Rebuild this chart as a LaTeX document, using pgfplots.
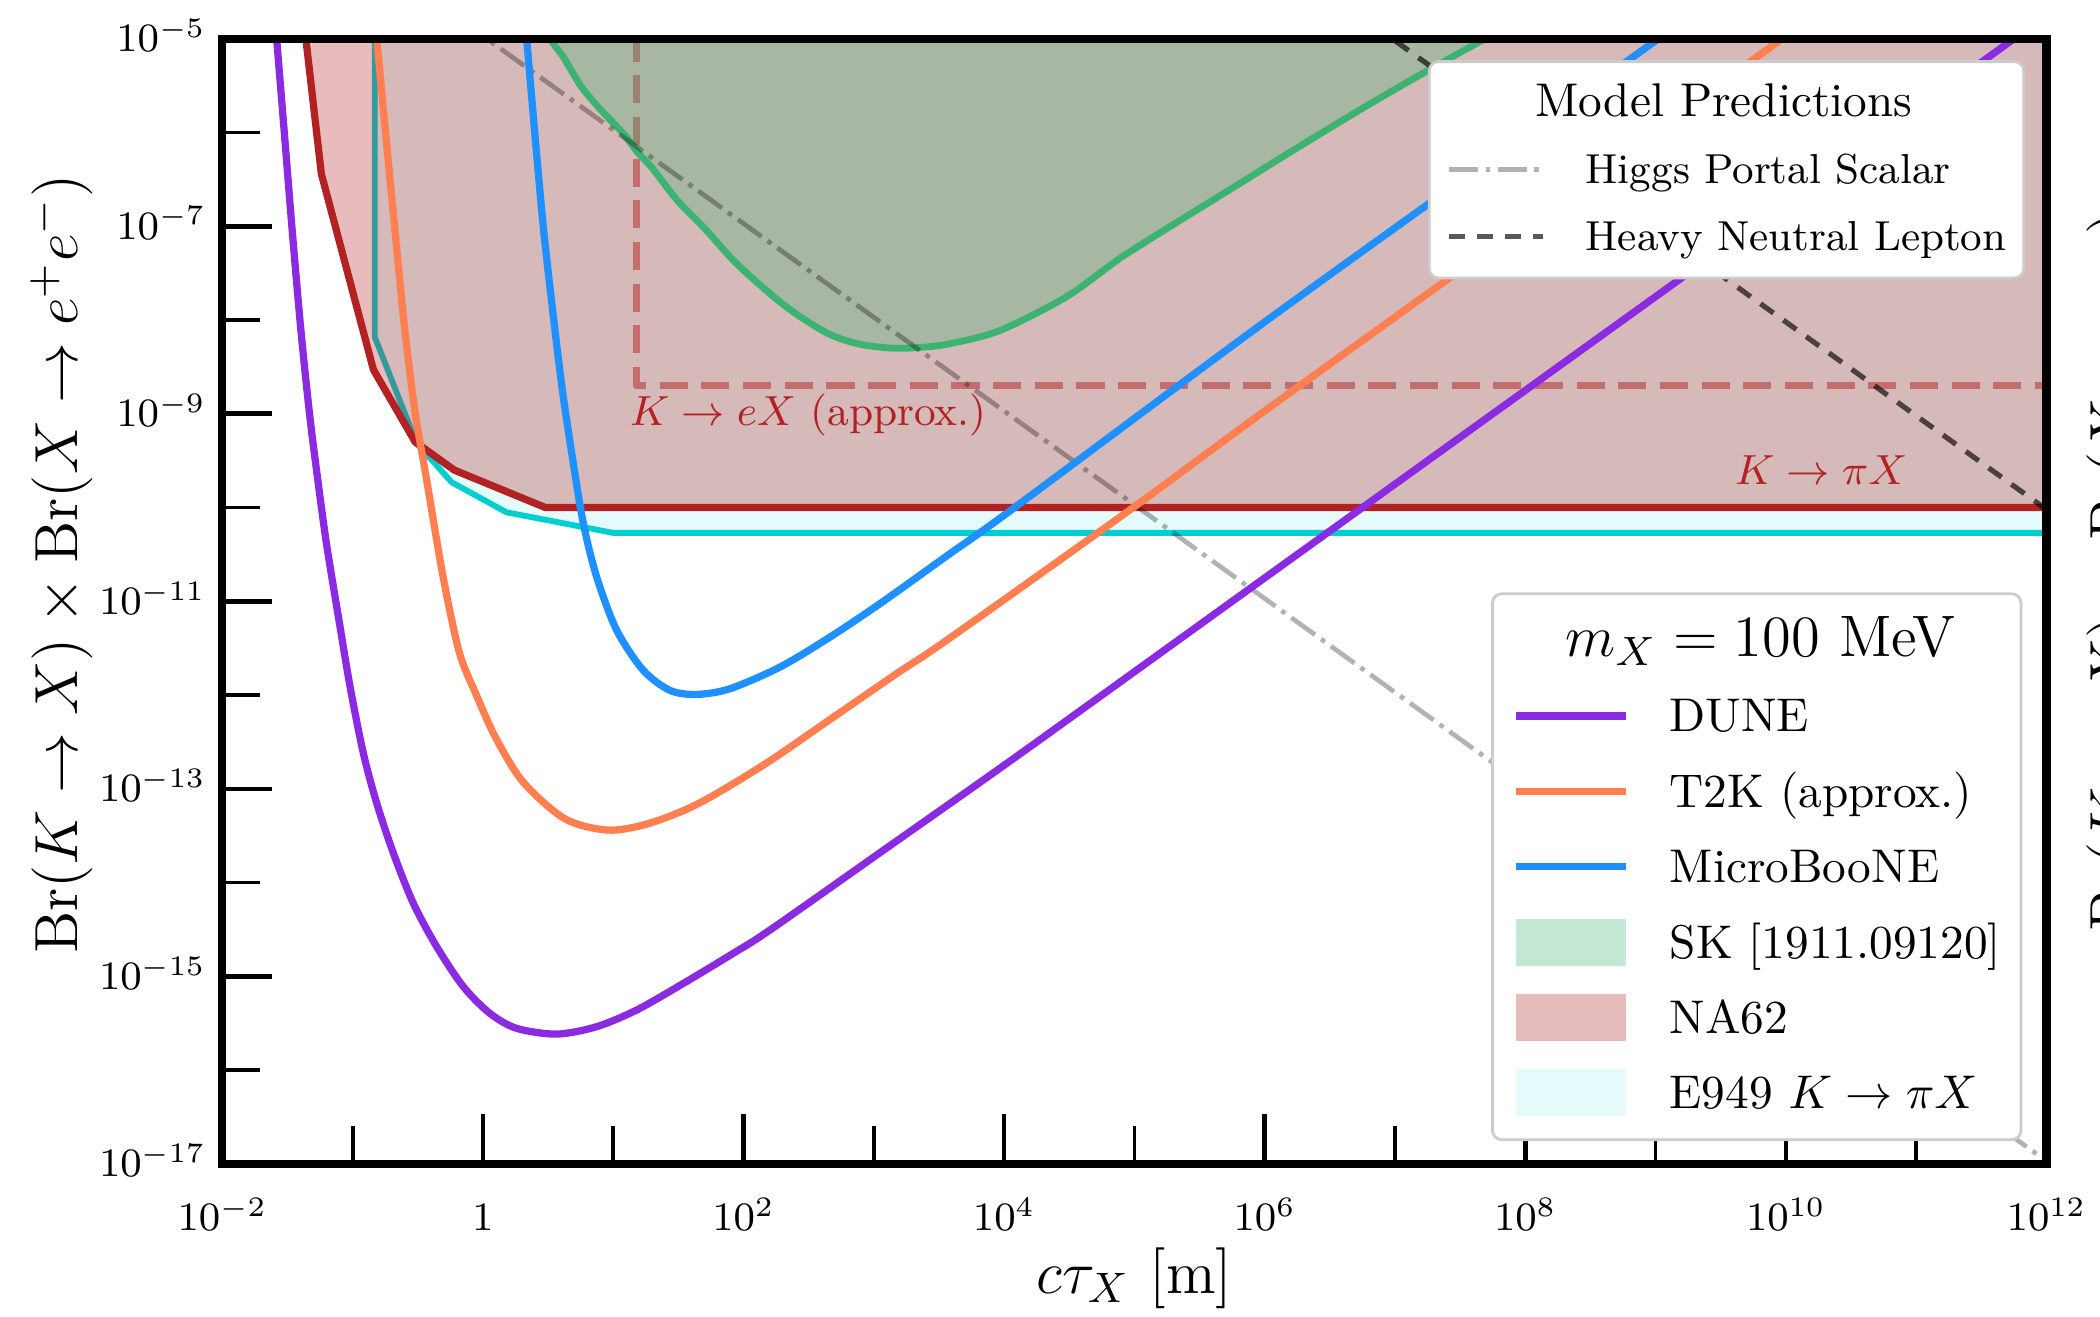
\RequirePackage{fix-cm}
\documentclass[border=0pt]{standalone}
\usepackage{fontspec}
\usepackage{pgfplots}
\pgfplotsset{compat=1.18}

\definecolor{dune}{HTML}{8A2BE2}
\definecolor{ttk}{HTML}{FF7F50}
\definecolor{uboone}{HTML}{1E90FF}
\definecolor{skgreen}{HTML}{3CB371}
\definecolor{nasixtytwo}{HTML}{B22222}
\definecolor{enine}{HTML}{00CED1}
\definecolor{legframe}{HTML}{CCCCCC}

\pgfplotsset{
  leg line A/.style={legend image code/.code={\draw[##1] (0pt,0pt) -- (20pt,0pt);}},
  leg line B/.style={legend image code/.code={\draw[##1] (0pt,0pt) -- (23.4pt,0pt);}},
  leg patch/.style={legend image code/.code={\fill[##1, sharp corners] (0pt,-5pt) rectangle (23.4pt,5pt);}},
}
\newcommand{\mxtitle}{\hspace*{-32pt}\makebox[102.7pt][c]{\fontsize{12.5}{14}\selectfont $m_X = 100$ MeV}}
\newcommand{\mptitle}{\hspace*{-28.6pt}\makebox[116.3pt][c]{\fontsize{10.1}{12}\selectfont Model Predictions}}
\newcommand{\eninelabel}{E949 $K\to\pi X$}

\begin{document}
\begin{tikzpicture}
\begin{axis}[
  scale only axis, width=389.53pt, height=240.24pt,
  xmode=log, ymode=log,
  xmin=1e-2, xmax=1e12, ymin=1e-17, ymax=1e-5,
  axis on top,
  axis line style={line width=1.75pt},
  tick align=inside, tick pos=left,
  xtick={1e-2,1,1e2,1e4,1e6,1e8,1e10,1e12},
  xticklabels={$10^{-2}$,$1$,$10^{2}$,$10^{4}$,$10^{6}$,$10^{8}$,$10^{10}$,$10^{12}$},
  minor xtick={1e-1,1e1,1e3,1e5,1e7,1e9,1e11},
  ytick={1e-17,1e-15,1e-13,1e-11,1e-9,1e-7,1e-5},
  yticklabels={$10^{-17}$,$10^{-15}$,$10^{-13}$,$10^{-11}$,$10^{-9}$,$10^{-7}$,$10^{-5}$},
  minor ytick={1e-16,1e-14,1e-12,1e-10,1e-8,1e-6},
  major tick length=10.7pt, minor tick length=8pt,
  major tick style={line width=1pt, black},
  minor tick style={line width=0.8pt, black},
  tick label style={font=\fontsize{8.6}{10}\selectfont},
  xticklabel style={anchor=base, yshift=-14.2pt},
  yticklabel style={anchor=base east, yshift=-2.75pt},
  xlabel={$c\tau_X$ [m]},
  ylabel={$\mathrm{Br}(K\to X)\times\mathrm{Br}(X\to e^+e^-)$},
  every axis x label/.style={at={(axis description cs:0.5,-0.1154)}, anchor=base, font=\fontsize{13}{15}\selectfont},
  every axis y label/.style={at={(axis description cs:-0.1057,0.533)}, rotate=90, anchor=north, inner sep=0pt, font=\fontsize{13}{15}\selectfont},
  legend entries={\mptitle, Higgs Portal Scalar, Heavy Neutral Lepton},
  legend style={at={(axis description cs:0.9883,0.981)}, anchor=north east,
    draw=legframe, fill=white, line width=0.6pt, rounded corners=2pt,
    inner xsep=3.7pt, inner ysep=4.2pt, row sep=5.1pt,
    font=\fontsize{8.95}{11}\selectfont,
    nodes={inner sep=0pt, text height=7.6pt, text depth=1.6pt},
    /tikz/every odd column/.append style={column sep=8.6pt}},
  legend cell align=left,
]
\addlegendimage{empty legend}

% E949 K -> pi X
\addplot[forget plot, draw=none, fill=enine, fill opacity=0.1] coordinates {
  (1.479e-1,3.162e-5) (1.479e-1,6.607e-9) (3.090e-1,4.898e-10) (5.754e-1,1.862e-10)
  (1.514,8.913e-11) (10,5.370e-11) (3.162e12,5.370e-11) (3.162e12,3.162e-5)
} -- cycle;
\addplot[forget plot, enine, line width=1.25pt, line join=round] coordinates {
  (1.479e-1,3.162e-5) (1.479e-1,6.607e-9) (3.090e-1,4.898e-10) (5.754e-1,1.862e-10)
  (1.514,8.913e-11) (10,5.370e-11) (3.162e12,5.370e-11)
};

% NA62
\addplot[forget plot, draw=none, fill=nasixtytwo, fill opacity=0.3] coordinates {
  (3.981e-2,3.162e-5) (5.754e-2,3.631e-7) (1.445e-1,2.951e-9) (3.020e-1,5.012e-10)
  (6.026e-1,2.512e-10) (3.020,1e-10) (3.162e12,1e-10) (3.162e12,3.162e-5)
} -- cycle;
\addplot[forget plot, nasixtytwo, line width=1.55pt, line join=round] coordinates {
  (3.981e-2,3.162e-5) (5.754e-2,3.631e-7) (1.445e-1,2.951e-9) (3.020e-1,5.012e-10)
  (6.026e-1,2.512e-10) (3.020,1e-10) (3.162e12,1e-10)
};

% K -> e X (approx.)
\addplot[forget plot, nasixtytwo, draw opacity=0.5, line width=1.45pt, line join=round,
  dash pattern=on 6pt off 2.9pt] coordinates {
  (15.14,3.162e-5) (15.14,1.995e-9) (3.162e12,1.995e-9)
};

% SK
\addplot[forget plot, draw=none, fill=skgreen, fill opacity=0.3] coordinates {
  (3.162,1.585e-5) (3.311,1e-5) (4.169,6.310e-6) (5.623,3.162e-6) (7.943,1.778e-6)
  (12.30,9.333e-7) (15.14,6.310e-7) (19.95,4.169e-7) (30.90,1.905e-7) (50.12,9.550e-8)
  (83.18,4.365e-8) (134.9,2.344e-8) (213.8,1.380e-8) (331.1,9.120e-9) (489.8,6.761e-9)
  (794.3,5.495e-9) (1413,5.012e-9) (2344,5.129e-9) (3890,5.623e-9) (9333,7.762e-9)
  (3.020e4,1.778e-8) (7.762e4,4.571e-8) (1.995e5,1.047e-7) (6.310e5,2.818e-7)
  (1.995e6,7.586e-7) (6.310e6,1.995e-6) (1.778e7,4.571e-6) (4.898e7,1e-5) (8.913e7,1.585e-5)
} -- cycle;
\addplot[forget plot, skgreen, line width=1.45pt, smooth, tension=0.5] coordinates {
  (3.162,1.585e-5) (3.311,1e-5) (4.169,6.310e-6) (5.623,3.162e-6) (7.943,1.778e-6)
  (12.30,9.333e-7) (15.14,6.310e-7) (19.95,4.169e-7) (30.90,1.905e-7) (50.12,9.550e-8)
  (83.18,4.365e-8) (134.9,2.344e-8) (213.8,1.380e-8) (331.1,9.120e-9) (489.8,6.761e-9)
  (794.3,5.495e-9) (1413,5.012e-9) (2344,5.129e-9) (3890,5.623e-9) (9333,7.762e-9)
  (3.020e4,1.778e-8) (7.762e4,4.571e-8) (1.995e5,1.047e-7) (6.310e5,2.818e-7)
  (1.995e6,7.586e-7) (6.310e6,1.995e-6) (1.778e7,4.571e-6) (4.898e7,1e-5) (8.913e7,1.585e-5)
};

% model predictions
\addplot[black, draw opacity=0.3, line width=1pt, dash pattern=on 6.2pt off 1.6pt on 1pt off 1.6pt, leg line A]
  coordinates {(3.388e-1,3.162e-5) (3.162e12,3.388e-18)};
\addplot[black, draw opacity=0.65, line width=1.1pt, dash pattern=on 3.4pt off 2.6pt, leg line A]
  coordinates {(3.020e6,3.162e-5) (3.162e12,3.020e-11)};

% sensitivities
\addplot[forget plot, dune, line width=1.55pt, smooth] coordinates {
  (2.443e-2,3.162e-5) (2.612e-2,1e-5) (2.979e-2,1.064e-6) (3.436e-2,9.120e-8)
  (4.009e-2,7.798e-9) (4.667e-2,1.007e-9) (5.408e-2,1.959e-10) (6.324e-2,3.981e-11)
  (7.998e-2,5.408e-12) (9.550e-2,1.239e-12) (1.208e-1,2.404e-13) (1.531e-1,7.031e-14)
  (2.056e-1,2.056e-14) (2.924e-1,6.012e-15) (4.416e-1,2.075e-15) (7.079e-1,7.762e-16)
  (1.132,4.027e-16) (1.816,2.786e-16) (3.681,2.421e-16) (7.464,2.904e-16)
  (15.14,4.375e-16) (34.59,8.414e-16) (83.56,1.762e-15) (160.0,3.126e-15)
  (1180,2.203e-14) (1.413e4,2.512e-13) (1e6,1.778e-11) (1e8,1.778e-9)
  (1e10,1.778e-7) (1.585e12,2.818e-5)
};
\addplot[forget plot, ttk, line width=1.55pt, smooth] coordinates {
  (1.396e-1,3.162e-5) (1.531e-1,1e-5) (1.782e-1,1.064e-6) (2.113e-1,9.120e-8)
  (2.489e-1,8.913e-9) (2.992e-1,1.122e-9) (3.715e-1,1.905e-10) (4.966e-1,1.778e-11)
  (6.607e-1,2.818e-12) (8.913e-1,1e-12) (1.259,3.467e-13) (2.042,1.175e-13)
  (4.266,4.786e-14) (9.120,3.631e-14) (18.62,4.266e-14) (44.67,6.918e-14)
  (144.5,1.820e-13) (461.3,5.495e-13) (1500,1.698e-12) (3846,4.074e-12)
  (1e5,1.023e-10) (1e6,1.072e-9) (1e8,1.072e-7) (1.585e10,1.698e-5)
};
\addplot[forget plot, uboone, line width=1.55pt, smooth] coordinates {
  (2.023,3.162e-5) (2.168,1e-5) (2.489,1.064e-6) (2.924,9.120e-8) (3.573,7.798e-9)
  (4.140,1.514e-9) (4.943,2.951e-10) (5.902,6.745e-11) (7.464,1.820e-11)
  (10.64,4.909e-12) (17.02,1.837e-12) (27.29,1.122e-12) (43.65,1.016e-12)
  (78.70,1.169e-12) (190.5,1.991e-12) (461.3,4.159e-12) (1114,9.441e-12)
  (3846,3.228e-11) (1.175e4,9.772e-11) (1e6,9.550e-9) (1e8,9.550e-7) (1.995e9,1.905e-5)
};

\node[anchor=north west, inner sep=0pt, text=nasixtytwo, font=\fontsize{9}{11}\selectfont]
  at (axis cs:13.18,1.66e-9) {$K\to eX$ (approx.)};
\node[anchor=base east, inner sep=0pt, text=nasixtytwo, font=\fontsize{9}{11}\selectfont]
  at (axis cs:8.71e10,1.75e-10) {$K\to\pi X$};
\end{axis}

% second legend on its own layer, drawn over everything
\begin{axis}[
  scale only axis, width=389.53pt, height=240.24pt,
  xmode=log, ymode=log,
  xmin=1e-2, xmax=1e12, ymin=1e-17, ymax=1e-5,
  hide axis,
  legend entries={\mxtitle, DUNE, T2K (approx.), MicroBooNE, {SK [1911.09120]}, NA62, \eninelabel},
  legend style={at={(axis description cs:0.9868,0.0202)}, anchor=south east,
    draw=legframe, fill=white, line width=0.6pt, rounded corners=2pt,
    inner xsep=4.3pt, inner ysep=5pt, row sep=6.1pt,
    font=\fontsize{10.1}{12}\selectfont,
    nodes={inner sep=0pt, text height=8.4pt, text depth=1.6pt},
    /tikz/every odd column/.append style={column sep=8.6pt}},
  legend cell align=left,
]
\addlegendimage{empty legend}
% single-point series: they only carry the legend styles
\addplot[dune, line width=1.55pt, leg line B] coordinates {(1,1e-10)};
\addplot[ttk, line width=1.55pt, leg line B] coordinates {(1,1e-10)};
\addplot[uboone, line width=1.55pt, leg line B] coordinates {(1,1e-10)};
\addplot[draw=none, fill=skgreen, fill opacity=0.3, leg patch] coordinates {(1,1e-10)};
\addplot[draw=none, fill=nasixtytwo, fill opacity=0.3, leg patch] coordinates {(1,1e-10)};
\addplot[draw=none, fill=enine, fill opacity=0.1, leg patch] coordinates {(1,1e-10)};
\end{axis}

% label of the neighbouring panel, cut by the page edge as in the source figure
\node[rotate=90, anchor=north west, inner sep=0pt, font=\fontsize{13}{15}\selectfont]
  at (398pt,49.5pt) {$\mathrm{Br}(K\to X)\times\mathrm{Br}(X\to\gamma\gamma)$};

\pgfresetboundingbox
\path (-47.48pt,-32.6pt) rectangle (400.97pt,248.53pt);
\end{tikzpicture}
\end{document}
